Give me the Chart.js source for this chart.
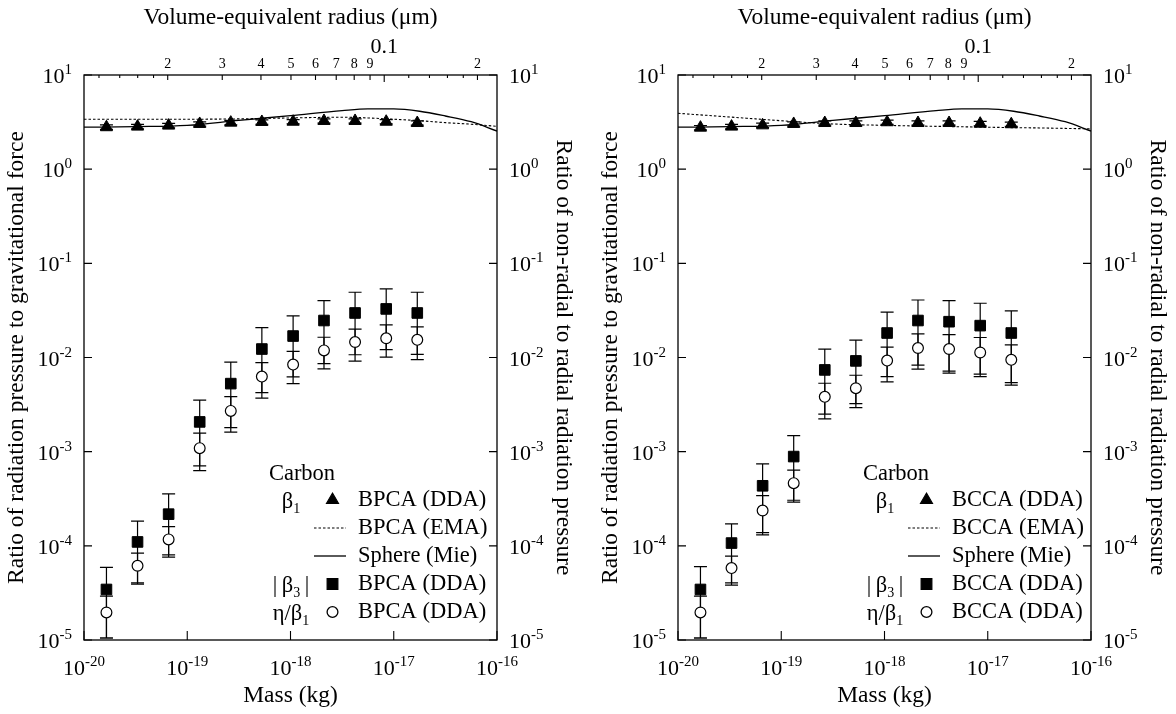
<!DOCTYPE html>
<html>
<head>
<meta charset="utf-8">
<script src="https://cdn.jsdelivr.net/npm/chart.js@4.4.1/dist/chart.umd.min.js"></script>
<style>
  html, body { margin: 0; padding: 0; background: #fff; overflow: hidden; }
  .panel { position: absolute; top: 0; width: 582px; height: 714px; }
  #left { left: 0; }
  #right { left: 594px; }
</style>
</head>
<body>
<div class="panel" id="left"><canvas id="chartBPCA" width="582" height="714"></canvas></div>
<div class="panel" id="right"><canvas id="chartBCCA" width="582" height="714"></canvas></div>
<script>
// --- data ---
// mass of the DDA aggregates (kg)
const ddaMass = [1.65e-20, 3.3e-20, 6.6e-20, 1.32e-19, 2.64e-19, 5.28e-19, 1.06e-18, 2.11e-18, 4.22e-18, 8.45e-18, 1.69e-17];
// mass samples for the EMA / Mie curves
const curveMass = [1e-20, 3.16e-20, 1e-19, 3.16e-19, 1e-18, 3.16e-18, 5.62e-18, 1e-17, 1.78e-17, 3.16e-17, 5.62e-17, 1e-16];
const mieBeta1 = [2.79, 2.83, 2.92, 3.30, 3.70, 4.18, 4.36, 4.36, 4.12, 3.67, 3.19, 2.54];

// BPCA (left panel)
const bpcaEma = [3.39, 3.39, 3.39, 3.42, 3.50, 3.56, 3.50, 3.39, 3.27, 3.12, 3.00, 2.85];
const bpcaBeta1 = [2.79, 2.83, 2.90, 3.02, 3.12, 3.17, 3.19, 3.25, 3.25, 3.19, 3.09];
const bpcaBeta1Hi = [2.95, 2.99, 3.06, 3.18, 3.29, 3.34, 3.36, 3.42, 3.42, 3.36, 3.26];
const bpcaBeta1Lo = [2.64, 2.68, 2.75, 2.86, 2.96, 3.00, 3.02, 3.08, 3.08, 3.02, 2.93];
const bpcaBeta3 = [3.44e-5, 1.10e-4, 2.17e-4, 2.07e-3, 5.28e-3, 1.23e-2, 1.69e-2, 2.47e-2, 2.97e-2, 3.28e-2, 2.97e-2];
const bpcaBeta3Hi = [5.9e-5, 1.83e-4, 3.56e-4, 3.52e-3, 8.91e-3, 2.08e-2, 2.77e-2, 4.02e-2, 4.93e-2, 5.35e-2, 4.93e-2];
const bpcaBeta3Lo = [1.05e-5, 4.05e-5, 8.0e-5, 7.06e-4, 1.80e-3, 4.24e-3, 6.22e-3, 8.61e-3, 1.07e-2, 1.21e-2, 1.08e-2];
const bpcaEta = [1.96e-5, 6.14e-5, 1.17e-4, 1.09e-3, 2.71e-3, 6.27e-3, 8.41e-3, 1.19e-2, 1.46e-2, 1.60e-2, 1.54e-2];
const bpcaEtaHi = [2.92e-5, 8.36e-5, 1.60e-4, 1.57e-3, 3.85e-3, 8.83e-3, 1.16e-2, 1.64e-2, 2.0e-2, 2.22e-2, 2.11e-2];
const bpcaEtaLo = [1.05e-5, 3.92e-5, 7.58e-5, 6.3e-4, 1.61e-3, 3.70e-3, 5.28e-3, 7.56e-3, 9.14e-3, 1.01e-2, 9.5e-3];

// BCCA (right panel)
const bccaEma = [3.92, 3.58, 3.27, 3.02, 2.92, 2.85, 2.82, 2.79, 2.76, 2.74, 2.71, 2.68];
const bccaBeta1 = [2.76, 2.83, 2.92, 3.02, 3.09, 3.09, 3.15, 3.09, 3.09, 3.04, 3.00];
const bccaBeta1Hi = [2.91, 2.99, 3.08, 3.18, 3.26, 3.26, 3.32, 3.26, 3.26, 3.21, 3.16];
const bccaBeta1Lo = [2.62, 2.68, 2.77, 2.87, 2.93, 2.93, 2.99, 2.93, 2.93, 2.88, 2.85];
const bccaBeta3 = [3.44e-5, 1.07e-4, 4.34e-4, 8.87e-4, 7.38e-3, 9.2e-3, 1.82e-2, 2.47e-2, 2.40e-2, 2.18e-2, 1.82e-2];
const bccaBeta3Hi = [6.0e-5, 1.71e-4, 7.41e-4, 1.48e-3, 1.23e-2, 1.53e-2, 3.03e-2, 4.08e-2, 4.02e-2, 3.77e-2, 3.13e-2];
const bccaBeta3Lo = [1.05e-5, 4.05e-5, 1.38e-4, 3.05e-4, 2.50e-3, 3.24e-3, 6.27e-3, 8.28e-3, 7.15e-3, 6.65e-3, 5.42e-3];
const bccaEta = [1.96e-5, 5.80e-5, 2.37e-4, 4.63e-4, 3.82e-3, 4.72e-3, 9.27e-3, 1.26e-2, 1.23e-2, 1.13e-2, 9.44e-3];
const bccaEtaHi = [2.92e-5, 7.78e-5, 3.42e-4, 6.37e-4, 5.33e-3, 6.48e-3, 1.29e-2, 1.78e-2, 1.75e-2, 1.63e-2, 1.36e-2];
const bccaEtaLo = [1.05e-5, 3.83e-5, 1.31e-4, 2.91e-4, 2.23e-3, 2.94e-3, 5.51e-3, 7.51e-3, 6.81e-3, 6.27e-3, 5.08e-3];

// axis ticks
const massTicks = [1e-20, 1e-19, 1e-18, 1e-17, 1e-16];
const massTickExp = ['-20', '-19', '-18', '-17', '-16'];
const ratioTicks = [1e-5, 1e-4, 1e-3, 1e-2, 1e-1, 1, 10];
const ratioTickExp = ['-5', '-4', '-3', '-2', '-1', '0', '1'];
const radiusLabeled = [0.02, 0.03, 0.04, 0.05, 0.06, 0.07, 0.08, 0.09, 0.2];
const radiusLabels = ['2', '3', '4', '5', '6', '7', '8', '9', '2'];
const radiusMajor = [0.1];
const radiusMajorLabels = ['0.1'];
const radiusMinor = [0.012, 0.014, 0.016, 0.018, 0.12, 0.14, 0.16, 0.18];

const carbonDensity = 1930; // kg/m^3, links mass to volume-equivalent radius
const radiusOf = (m) => Math.cbrt(3 * m / (4 * Math.PI * carbonDensity)) * 1e6; // µm

const SERIF = "'Liberation Serif', 'Times New Roman', serif";
Chart.defaults.font.family = SERIF;
Chart.defaults.color = '#000';

const pts = (xs, ys) => xs.map((x, i) => ({ x: x, y: ys[i] }));

function drawPower(ctx, exp, x, y, align) {
    ctx.font = '22px ' + SERIF;
    const wBase = ctx.measureText('10').width;
    ctx.font = '15px ' + SERIF;
    const wExp = ctx.measureText(exp).width;
    const total = wBase + wExp;
    const x0 = align === 'right' ? x - total : align === 'center' ? x - total / 2 : x;
    ctx.textAlign = 'left';
    ctx.textBaseline = 'alphabetic';
    ctx.font = '22px ' + SERIF;
    ctx.fillText('10', x0, y);
    ctx.font = '15px ' + SERIF;
    ctx.fillText(exp, x0 + wBase, y - 9);
}

// text with sub/superscripts: parts = [text, size, baseline shift]
function drawRich(ctx, parts, x, y, align) {
    let w = 0;
    parts.forEach(([t, s]) => { ctx.font = s + 'px ' + SERIF; w += ctx.measureText(t).width; });
    let cx = align === 'center' ? x - w / 2 : align === 'right' ? x - w : x;
    ctx.textAlign = 'left';
    ctx.textBaseline = 'alphabetic';
    parts.forEach(([t, s, dy]) => {
        ctx.font = s + 'px ' + SERIF;
        ctx.fillText(t, cx, y + (dy || 0));
        cx += ctx.measureText(t).width;
    });
}

const markerStyle = {
    triangle: { pointStyle: 'triangle', radius: 7, fill: '#000' },
    rect: { pointStyle: 'rect', radius: 7.5, fill: '#000' },
    circle: { pointStyle: 'circle', radius: 5.4, fill: '#fff' }
};

// error bars, inward ticks, tick labels, frame and the key
const figureDecor = {
    id: 'figureDecor',
    beforeDatasetsDraw(chart) {
        const { ctx, chartArea: a, scales } = chart;
        ctx.save();
        ctx.beginPath();
        ctx.rect(a.left, a.top, a.right - a.left, a.bottom - a.top);
        ctx.clip();
        ctx.strokeStyle = '#000';
        ctx.lineWidth = 1.2;
        chart.data.datasets.forEach((ds) => {
            if (!ds.errHi) return;
            ds.data.forEach((p, j) => {
                const x = scales.x.getPixelForValue(p.x);
                const yh = scales.y.getPixelForValue(ds.errHi[j]);
                const yl = scales.y.getPixelForValue(ds.errLo[j]);
                ctx.beginPath();
                ctx.moveTo(x, yh); ctx.lineTo(x, yl);
                ctx.moveTo(x - 6.5, yh); ctx.lineTo(x + 6.5, yh);
                ctx.moveTo(x - 6.5, yl); ctx.lineTo(x + 6.5, yl);
                ctx.stroke();
            });
        });
        ctx.restore();
    },
    afterDraw(chart) {
        const { ctx, chartArea: a, scales } = chart;
        const name = chart.options.plugins.figureDecor.name;
        ctx.save();
        ctx.strokeStyle = '#000';
        ctx.fillStyle = '#000';
        ctx.lineWidth = 1.3;
        ctx.strokeRect(a.left, a.top, a.right - a.left, a.bottom - a.top);

        ctx.lineWidth = 1.1;
        ratioTicks.forEach((v, i) => {
            const y = scales.y.getPixelForValue(v);
            ctx.beginPath();
            ctx.moveTo(a.left, y); ctx.lineTo(a.left + 8, y);
            ctx.moveTo(a.right, y); ctx.lineTo(a.right - 8, y);
            ctx.stroke();
            drawPower(ctx, ratioTickExp[i], a.left - 12, y + 8, 'right');
            drawPower(ctx, ratioTickExp[i], a.right + 12, y + 8, 'left');
        });
        massTicks.forEach((v, i) => {
            const x = scales.x.getPixelForValue(v);
            ctx.beginPath();
            ctx.moveTo(x, a.bottom); ctx.lineTo(x, a.bottom - 9);
            ctx.stroke();
            drawPower(ctx, massTickExp[i], x, a.bottom + 35, 'center');
        });

        // top radius axis
        const top = scales.x2;
        const tick = (r, len) => {
            const x = top.getPixelForValue(r);
            ctx.beginPath();
            ctx.moveTo(x, a.top); ctx.lineTo(x, a.top + len);
            ctx.stroke();
            return x;
        };
        radiusMinor.forEach((r) => tick(r, 3));
        ctx.textAlign = 'center';
        ctx.textBaseline = 'alphabetic';
        radiusLabeled.forEach((r, i) => {
            const x = tick(r, 5);
            ctx.font = '14px ' + SERIF;
            ctx.fillText(radiusLabels[i], x, a.top - 7);
        });
        radiusMajor.forEach((r, i) => {
            const x = tick(r, 7);
            ctx.font = '22px ' + SERIF;
            ctx.fillText(radiusMajorLabels[i], x, a.top - 22);
        });

        // key
        const R = a.right, B = a.bottom;
        const labelX = R - 206, symX = R - 164.5, textX = R - 139;
        ctx.textAlign = 'center';
        ctx.textBaseline = 'middle';
        ctx.font = '22.5px ' + SERIF;
        ctx.fillText('Carbon', R - 195, B - 166);
        const rows = [
            { label: [['β', 22.5], ['1', 14, 5]], marker: 'triangle', text: name + ' (DDA)' },
            { label: null, marker: 'dash', text: name + ' (EMA)' },
            { label: null, marker: 'line', text: 'Sphere (Mie)' },
            { label: [['|\u2009β', 22.5], ['3', 14, 5], ['\u2009|', 22.5]], marker: 'rect', text: name + ' (DDA)' },
            { label: [['η/β', 22.5], ['1', 14, 5]], marker: 'circle', text: name + ' (DDA)' }
        ];
        rows.forEach((row, i) => {
            const y = B - 140 + i * 28;
            if (row.label) drawRich(ctx, row.label, labelX, y + 7.5, 'center');
            if (row.marker === 'dash' || row.marker === 'line') {
                ctx.beginPath();
                ctx.lineWidth = row.marker === 'dash' ? 1.1 : 1.3;
                ctx.setLineDash(row.marker === 'dash' ? [2.5, 2] : []);
                ctx.moveTo(R - 183, y); ctx.lineTo(R - 151, y);
                ctx.stroke();
                ctx.setLineDash([]);
            } else {
                const m = markerStyle[row.marker];
                ctx.fillStyle = m.fill;
                ctx.strokeStyle = '#000';
                Chart.helpers.drawPoint(ctx, { pointStyle: m.pointStyle, radius: m.radius, rotation: 0, borderWidth: 1.2 }, symX, y);
                ctx.fillStyle = '#000';
            }
            ctx.textAlign = 'left';
            ctx.textBaseline = 'middle';
            ctx.font = '22.5px ' + SERIF;
            ctx.fillText(row.text, textX, y);
        });
        ctx.restore();
    }
};

function makePanel(canvasId, name, s) {
    const titleFont = { family: SERIF, size: 23.5 };
    new Chart(document.getElementById(canvasId), {
        type: 'line',
        data: {
            datasets: [
                {
                    label: 'β1 ' + name + ' (DDA)',
                    data: pts(ddaMass, s.beta1),
                    errHi: s.beta1Hi, errLo: s.beta1Lo,
                    showLine: false,
                    pointStyle: 'triangle', pointRadius: 7,
                    backgroundColor: '#000', borderColor: '#000', pointBorderWidth: 1
                },
                {
                    label: '|β3| ' + name + ' (DDA)',
                    data: pts(ddaMass, s.beta3),
                    errHi: s.beta3Hi, errLo: s.beta3Lo,
                    showLine: false,
                    pointStyle: 'rect', pointRadius: 7.5,
                    backgroundColor: '#000', borderColor: '#000', pointBorderWidth: 1
                },
                {
                    label: 'η/β1 ' + name + ' (DDA)',
                    data: pts(ddaMass, s.eta),
                    errHi: s.etaHi, errLo: s.etaLo,
                    showLine: false,
                    pointStyle: 'circle', pointRadius: 5.4,
                    backgroundColor: '#fff', borderColor: '#000', pointBorderWidth: 1.2
                },
                {
                    label: name + ' (EMA)',
                    data: pts(curveMass, s.ema),
                    borderColor: '#000', borderWidth: 1.1, borderDash: [2.5, 2],
                    pointRadius: 0, cubicInterpolationMode: 'monotone'
                },
                {
                    label: 'Sphere (Mie)',
                    data: pts(curveMass, mieBeta1),
                    borderColor: '#000', borderWidth: 1.3,
                    pointRadius: 0, cubicInterpolationMode: 'monotone'
                }
            ]
        },
        options: {
            responsive: false,
            animation: false,
            events: [],
            layout: { padding: 0 },
            plugins: {
                legend: { display: false },
                tooltip: { enabled: false },
                figureDecor: { name: name }
            },
            scales: {
                x: {
                    type: 'logarithmic', position: 'bottom',
                    min: 1e-20, max: 1e-16,
                    grid: { display: false }, border: { display: false },
                    ticks: { display: false },
                    title: { display: true, text: 'Mass (kg)', font: titleFont, color: '#000', padding: { top: 0, bottom: 4 } },
                    afterFit: (sc) => { sc.height = 74; }
                },
                x2: {
                    type: 'logarithmic', position: 'top',
                    min: radiusOf(1e-20), max: radiusOf(1e-16),
                    grid: { display: false }, border: { display: false },
                    ticks: { display: false },
                    title: { display: true, text: 'Volume-equivalent radius (μm)', font: titleFont, color: '#000', padding: { top: 4, bottom: 0 } },
                    afterFit: (sc) => { sc.height = 75; }
                },
                y: {
                    type: 'logarithmic', position: 'left',
                    min: 1e-5, max: 10,
                    grid: { display: false }, border: { display: false },
                    ticks: { display: false },
                    title: { display: true, text: 'Ratio of radiation pressure to gravitational force', font: titleFont, color: '#000', padding: { top: 3, bottom: 0 } },
                    afterFit: (sc) => { sc.width = 84; }
                },
                y2: {
                    type: 'logarithmic', position: 'right',
                    min: 1e-5, max: 10,
                    grid: { display: false }, border: { display: false },
                    ticks: { display: false },
                    title: { display: true, text: 'Ratio of non-radial to radial radiation pressure', font: titleFont, color: '#000', padding: { top: 5, bottom: 0 } },
                    afterFit: (sc) => { sc.width = 85; }
                }
            }
        },
        plugins: [figureDecor]
    });
}

makePanel('chartBPCA', 'BPCA', {
    ema: bpcaEma, beta1: bpcaBeta1, beta1Hi: bpcaBeta1Hi, beta1Lo: bpcaBeta1Lo,
    beta3: bpcaBeta3, beta3Hi: bpcaBeta3Hi, beta3Lo: bpcaBeta3Lo,
    eta: bpcaEta, etaHi: bpcaEtaHi, etaLo: bpcaEtaLo
});
makePanel('chartBCCA', 'BCCA', {
    ema: bccaEma, beta1: bccaBeta1, beta1Hi: bccaBeta1Hi, beta1Lo: bccaBeta1Lo,
    beta3: bccaBeta3, beta3Hi: bccaBeta3Hi, beta3Lo: bccaBeta3Lo,
    eta: bccaEta, etaHi: bccaEtaHi, etaLo: bccaEtaLo
});
</script>
</body>
</html>
